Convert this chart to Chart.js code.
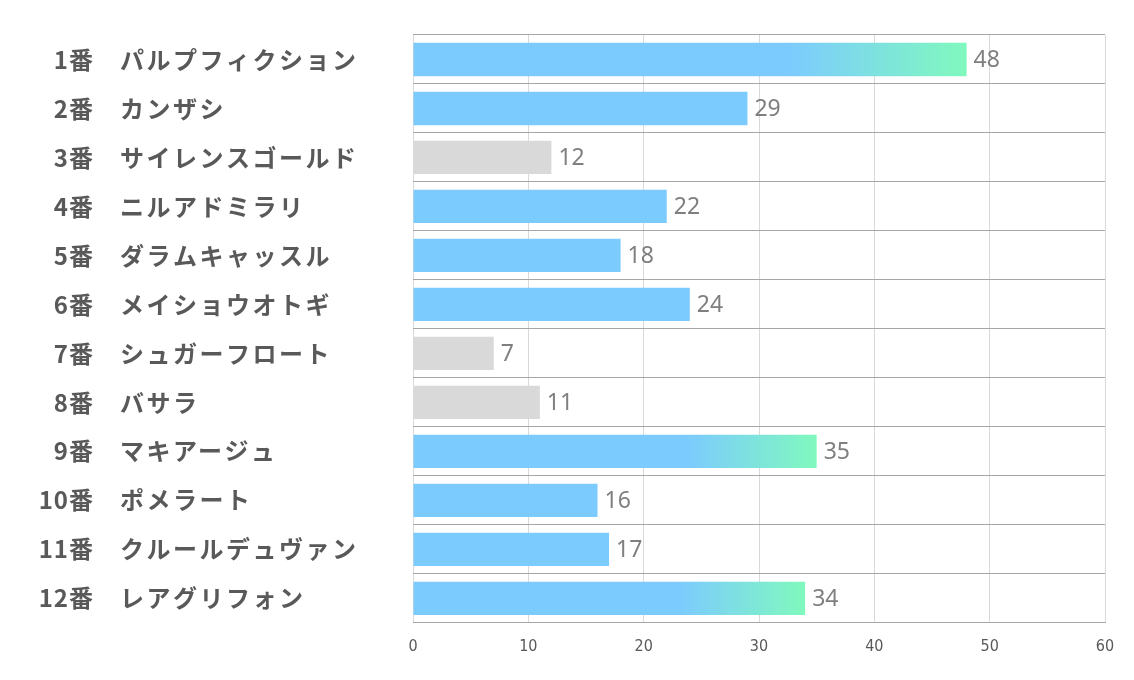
<!DOCTYPE html>
<html>
<head>
<meta charset="utf-8">
<script src="https://cdn.jsdelivr.net/npm/chart.js@4"></script>
<style>
  html, body { margin: 0; padding: 0; background: #fff; }
  #wrap { width: 1134px; height: 680px; }
</style>
</head>
<body>
<div id="wrap"><canvas id="rankChart" width="1134" height="680"></canvas></div>
<script>
// horse numbers / names / values
const numbers = ['1番', '2番', '3番', '4番', '5番', '6番', '7番', '8番', '9番', '10番', '11番', '12番'];
const names = ['パルプフィクション', 'カンザシ', 'サイレンスゴールド', 'ニルアドミラリ', 'ダラムキャッスル', 'メイショウオトギ',
  'シュガーフロート', 'バサラ', 'マキアージュ', 'ポメラート', 'クルールデュヴァン', 'レアグリフォン'];
const values = [48, 29, 12, 22, 18, 24, 7, 11, 35, 16, 17, 34];
const xTicks = [0, 10, 20, 30, 40, 50, 60];

const BLUE = '#7ccbfe';
const GREEN = '#80f9be';
const GRAY = '#d9d9d9';

// top 3 get the gradient, bottom 3 are gray
const sorted = [...values].sort((a, b) => b - a);
const topCut = sorted[2];
const lowCut = sorted[sorted.length - 3];

function barColor(context) {
  const v = values[context.dataIndex];
  if (v <= lowCut) return GRAY;
  if (v < topCut) return BLUE;
  const chart = context.chart;
  const { chartArea } = chart;
  if (!chartArea) return BLUE;
  const xs = chart.scales.x;
  const x0 = xs.getPixelForValue(0);
  const x1 = xs.getPixelForValue(v);
  const g = chart.ctx.createLinearGradient(x0, 0, x1, 0);
  g.addColorStop(0, BLUE);
  g.addColorStop(0.68, BLUE);
  g.addColorStop(1, GREEN);
  return g;
}

// left labels: number right aligned, name left aligned
const rowLabels = {
  id: 'rowLabels',
  afterDraw(chart) {
    const ctx = chart.ctx;
    const ys = chart.scales.y;
    ctx.save();
    ctx.fillStyle = '#595959';
    ctx.font = 'bold 24px "Noto Sans CJK JP", "Noto Sans", sans-serif';
    ctx.textBaseline = 'middle';
    numbers.forEach((n, i) => {
      const y = ys.getPixelForValue(i);
      ctx.letterSpacing = '1px';
      ctx.textAlign = 'right';
      ctx.fillText(n, 94, y);
      ctx.letterSpacing = '2.5px';
      ctx.textAlign = 'left';
      ctx.fillText(names[i], 120, y);
    });
    ctx.restore();
  }
};

// value labels at bar ends
const valueLabels = {
  id: 'valueLabels',
  afterDatasetsDraw(chart) {
    const ctx = chart.ctx;
    const meta = chart.getDatasetMeta(0);
    ctx.save();
    ctx.fillStyle = '#7f7f7f';
    ctx.font = '23px "Noto Sans", "Open Sans", sans-serif';
    ctx.textBaseline = 'middle';
    ctx.textAlign = 'left';
    meta.data.forEach((bar, i) => {
      ctx.fillText(String(values[i]), bar.x + 7, bar.y + 1);
    });
    ctx.restore();
  }
};

new Chart(document.getElementById('rankChart'), {
  type: 'bar',
  data: {
    labels: names,
    datasets: [{
      data: values,
      backgroundColor: barColor,
      borderWidth: 0,
      categoryPercentage: 0.68,
      barPercentage: 1.0
    }]
  },
  options: {
    indexAxis: 'y',
    responsive: false,
    animation: false,
    layout: { padding: { left: 413, right: 29, top: 35, bottom: 10 } },
    plugins: {
      legend: { display: false },
      tooltip: { enabled: false }
    },
    scales: {
      x: {
        min: 0,
        max: 60,
        afterBuildTicks: axis => { axis.ticks = xTicks.map(v => ({ value: v })); },
        ticks: {
          color: '#595959',
          font: { family: '"DejaVu Sans Condensed", "Liberation Sans Narrow", "Noto Sans", sans-serif', size: 16 },
          padding: 14
        },
        grid: { color: '#d9d9d9', lineWidth: 1, drawTicks: false },
        border: { color: '#a6a6a6', width: 1 }
      },
      y: {
        ticks: { display: false },
        grid: { color: '#a6a6a6', lineWidth: 1, drawTicks: false, offset: true },
        border: { display: false }
      }
    }
  },
  plugins: [rowLabels, valueLabels]
});
</script>
</body>
</html>
